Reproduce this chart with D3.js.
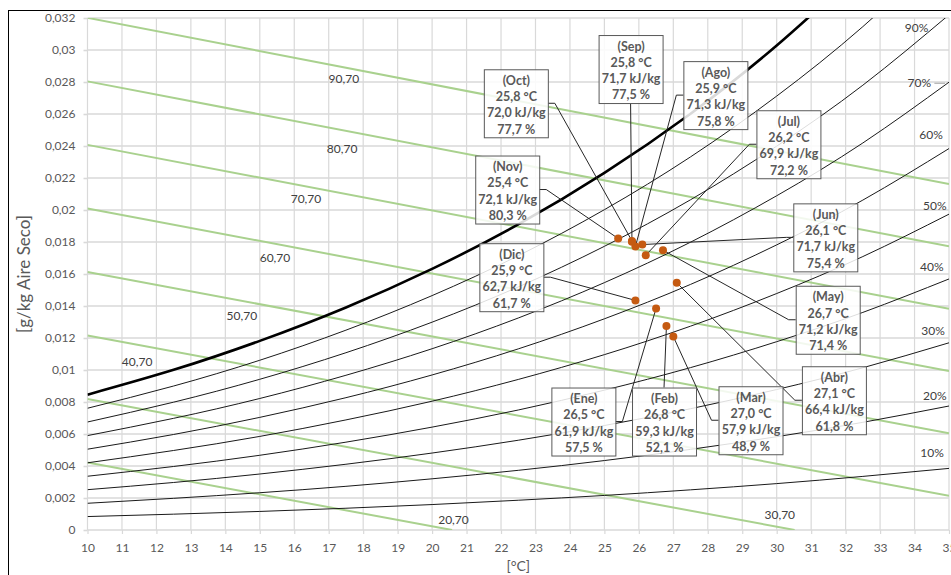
<!DOCTYPE html>
<html lang="es">
<head>
<meta charset="UTF-8">
<title>Carta psicrométrica</title>
<script src="https://d3js.org/d3.v7.min.js"></script>
<style>
  body { margin: 0; background: #fff; }
  svg { display: block; font-family: Lato, 'Open Sans', sans-serif; }
  .axis text { fill: #595959; font-size: 12px; }
  .axis-label { fill: #595959; font-size: 14px; }
  .axis-label.yl { font-size: 17px; }
  .h-label, .rh-label { fill: #404040; font-size: 12px; }
  .box rect { fill: #fff; fill-opacity: 0.85; stroke: #595959; stroke-width: 1; }
  .box text { fill: #595959; font-size: 12.5px; font-weight: bold; }
</style>
</head>
<body>
<script>
// ---- data ----
const xTicks = [10,11,12,13,14,15,16,17,18,19,20,21,22,23,24,25,26,27,28,29,30,31,32,33,34,35];
const yTicks = [0,0.002,0.004,0.006,0.008,0.01,0.012,0.014,0.016,0.018,0.02,0.022,0.024,0.026,0.028,0.03,0.032];

// humidity ratio of the relative humidity curves at these temperatures
const tempGrid = [10, 12.5, 15, 17.5, 20, 22.5, 25, 27.5, 30, 32.5, 35];
const w100 = [0.00846, 0.01001, 0.01182, 0.01391, 0.01632, 0.01910, 0.02232, 0.02602, 0.03028, 0.03515];
const w90 = [0.00761, 0.00900, 0.01061, 0.01249, 0.01465, 0.01714, 0.02002, 0.02332, 0.02712, 0.03146, 0.03646];
const w80 = [0.00675, 0.00799, 0.00942, 0.01108, 0.01299, 0.01519, 0.01773, 0.02064, 0.02399, 0.02780, 0.03220];
const w70 = [0.00590, 0.00698, 0.00822, 0.00967, 0.01133, 0.01325, 0.01546, 0.01799, 0.02089, 0.02419, 0.02799];
const w60 = [0.00505, 0.00597, 0.00704, 0.00827, 0.00969, 0.01132, 0.01320, 0.01535, 0.01782, 0.02062, 0.02384];
const w50 = [0.00420, 0.00497, 0.00585, 0.00688, 0.00805, 0.00941, 0.01096, 0.01274, 0.01478, 0.01709, 0.01974];
const w40 = [0.00336, 0.00397, 0.00467, 0.00549, 0.00643, 0.00750, 0.00874, 0.01015, 0.01177, 0.01360, 0.01569];
const w30 = [0.00252, 0.00297, 0.00350, 0.00411, 0.00481, 0.00561, 0.00653, 0.00758, 0.00878, 0.01014, 0.01170];
const w20 = [0.00167, 0.00198, 0.00233, 0.00273, 0.00320, 0.00373, 0.00434, 0.00504, 0.00583, 0.00673, 0.00775];
const w10 = [0.00084, 0.00099, 0.00116, 0.00136, 0.00159, 0.00186, 0.00216, 0.00251, 0.00290, 0.00335, 0.00385];

// labels of the RH curves and where they sit (°C, kg/kg)
const rhNames = ["90%", "70%", "60%", "50%", "40%", "30%", "20%", "10%"];
const rhLabelT = [34.06, 34.14, 34.48, 34.59, 34.50, 34.54, 34.59, 34.51];
const rhLabelW = [0.03136, 0.02792, 0.02469, 0.02025, 0.01646, 0.01244, 0.00838, 0.00483];

// enthalpy lines: start and end points
const hStartT = [10, 10, 10, 10, 10, 10, 10, 10];
const hStartW = [0.00422, 0.00819, 0.01216, 0.01613, 0.02010, 0.02407, 0.02804, 0.03201];
const hEndT = [20.58, 30.52, 35, 35, 35, 35, 35, 35];
const hEndW = [0, 0, 0.00214, 0.00604, 0.00993, 0.01383, 0.01773, 0.02162];
const hNames = ["20,70", "30,70", "40,70", "50,70", "60,70", "70,70", "80,70", "90,70"];
const hLabelT = [20.62, 30.09, 11.44, 14.48, 15.44, 16.34, 17.39, 17.44];
const hLabelW = [0.00063, 0.00094, 0.0105, 0.01338, 0.0170, 0.02069, 0.02381, 0.02819];

// monthly points
const months = ["Ene","Feb","Mar","Abr","May","Jun","Jul","Ago","Sep","Oct","Nov","Dic"];
const temps = [26.5, 26.8, 27.0, 27.1, 26.7, 26.1, 26.2, 25.9, 25.8, 25.8, 25.4, 25.9];
const enth = [61.9, 59.3, 57.9, 66.4, 71.2, 71.7, 69.9, 71.3, 71.7, 72.0, 72.1, 62.7];
const hum = [57.5, 52.1, 48.9, 61.8, 71.4, 75.4, 72.2, 75.8, 77.5, 77.7, 80.3, 61.7];
const ratio = [0.01385, 0.01275, 0.01209, 0.01545, 0.01749, 0.01784, 0.01717, 0.01772, 0.01802, 0.01807, 0.01822, 0.01435];
// callout box centres (°C, kg/kg)
const boxT = [24.39, 26.73, 29.24, 31.66, 31.48, 31.41, 30.34, 28.22, 25.76, 22.43, 22.18, 22.30];
const boxW = [0.00678, 0.00678, 0.00686, 0.00811, 0.01314, 0.01829, 0.02411, 0.02718, 0.02881, 0.02667, 0.02128, 0.01580];

// ---- chart ----
const W = 951, H = 575;
const svg = d3.select("body").append("svg").attr("width", W).attr("height", H);

const x = d3.scaleLinear().domain([10, 35]).range([87.5, 949]);
const y = d3.scaleLinear().domain([0, 0.032]).range([530, 18]);

const loc = d3.formatLocale({decimal: ",", thousands: ".", grouping: [3], currency: ["", ""]});
const fmtY = loc.format("~g");
const fmt1 = loc.format(".1f");

// chart border
svg.append("rect")
    .attr("x", 8.5).attr("y", 10.5)
    .attr("width", 1000).attr("height", 1000)
    .attr("fill", "#fff").attr("stroke", "#000");

svg.append("clipPath").attr("id", "plot")
    .append("rect")
    .attr("x", x(10)).attr("y", y(0.032))
    .attr("width", x(35) - x(10)).attr("height", y(0) - y(0.032));

// grid
svg.append("g").selectAll("line").data(yTicks).join("line")
    .attr("x1", x(10)).attr("x2", x(35))
    .attr("y1", d => y(d)).attr("y2", d => y(d))
    .attr("stroke", "#d9d9d9").attr("stroke-width", 1.6);
svg.append("g").selectAll("line").data(xTicks).join("line")
    .attr("x1", d => x(d)).attr("x2", d => x(d))
    .attr("y1", y(0)).attr("y2", y(0.032))
    .attr("stroke", "#d9d9d9").attr("stroke-width", 1.2);

// axes
svg.append("g").attr("class", "axis")
    .attr("transform", `translate(${x(10)},0)`)
    .call(d3.axisLeft(y).tickValues(yTicks).tickSize(4).tickPadding(8).tickFormat(fmtY))
    .call(g => g.select(".domain").remove())
    .call(g => g.selectAll(".tick line").attr("stroke", "#d9d9d9").attr("stroke-width", 1.6));
svg.append("g").attr("class", "axis")
    .attr("transform", `translate(0,${y(0)})`)
    .call(d3.axisBottom(x).tickValues(xTicks).tickSize(4).tickPadding(9).tickFormat(d => d))
    .call(g => g.select(".domain").remove())
    .call(g => g.selectAll(".tick line").attr("stroke", "#d9d9d9").attr("stroke-width", 1.2));
svg.selectAll(".axis").attr("font-family", null).attr("font-size", null);

svg.append("text").attr("class", "axis-label yl")
    .attr("transform", `translate(24,${(y(0) + y(0.032)) / 2}) rotate(-90)`)
    .attr("text-anchor", "middle").attr("dy", "0.35em")
    .text("[g/kg Aire Seco]");
svg.append("text").attr("class", "axis-label")
    .attr("x", (x(10) + x(35)) / 2).attr("y", 571)
    .attr("text-anchor", "middle")
    .text("[°C]");

const plot = svg.append("g").attr("clip-path", "url(#plot)");

// enthalpy lines
plot.selectAll(".hline").data(hStartT).join("line")
    .attr("x1", (d, i) => x(hStartT[i])).attr("y1", (d, i) => y(hStartW[i]))
    .attr("x2", (d, i) => x(hEndT[i])).attr("y2", (d, i) => y(hEndW[i]))
    .attr("stroke", "#a9d18e").attr("stroke-width", 2);

// RH curves
const line = d3.line().x(d => x(d[0])).y(d => y(d[1])).curve(d3.curveNatural);
const rhSeries = [w90, w80, w70, w60, w50, w40, w30, w20, w10];
plot.selectAll(".rh").data(rhSeries).join("path")
    .attr("fill", "none").attr("stroke", "#1a1a1a").attr("stroke-width", 1)
    .attr("d", s => line(s.map((v, i) => [tempGrid[i], v])));
plot.append("path")
    .attr("fill", "none").attr("stroke", "#000").attr("stroke-width", 2.6)
    .attr("d", line(w100.map((v, i) => [tempGrid[i], v])));

// enthalpy labels
svg.selectAll(".h-label").data(hNames).join("text")
    .attr("class", "h-label")
    .attr("x", (d, i) => x(hLabelT[i])).attr("y", (d, i) => y(hLabelW[i]))
    .attr("text-anchor", "middle").attr("dy", "0.35em")
    .text(d => d);

// RH labels
svg.selectAll(".rh-label").data(rhNames).join("text")
    .attr("class", "rh-label")
    .attr("x", (d, i) => x(rhLabelT[i])).attr("y", (d, i) => y(rhLabelW[i]))
    .attr("text-anchor", "middle").attr("dy", "0.35em")
    .text(d => d);
// small leader of the 70% label
svg.append("line")
    .attr("x1", x(rhLabelT[1]) + 15).attr("y1", y(rhLabelW[1]))
    .attr("x2", x(35) - 4).attr("y2", y(rhLabelW[1]))
    .attr("stroke", "#a6a6a6").attr("stroke-width", 1);

// callouts: leader lines, points, boxes
const bw = 64, bh = 68;
const pts = months.map((m, i) => ({
    m, px: x(temps[i]), py: y(ratio[i]), cx: x(boxT[i]), cy: y(boxW[i]),
    lines: [`(${m})`, `${fmt1(temps[i])} °C`, `${fmt1(enth[i])} kJ/kg`, `${fmt1(hum[i])} %`]
}));

function leader(d) {
    const l = d.cx - bw / 2, r = d.cx + bw / 2, t = d.cy - bh / 2, b = d.cy + bh / 2;
    if (d.px >= l && d.px <= r) {
        const sy = d.py > b ? b : t;
        return `M${d.cx},${sy}L${d.px},${d.py}`;
    }
    if (d.px > r) return `M${r},${d.cy}h7L${d.px},${d.py}`;
    return `M${l},${d.cy}h-7L${d.px},${d.py}`;
}

svg.append("g").selectAll("path").data(pts).join("path")
    .attr("fill", "none").attr("stroke", "#262626").attr("stroke-width", 1)
    .attr("d", leader);

svg.append("g").selectAll("circle").data(pts).join("circle")
    .attr("cx", d => d.px).attr("cy", d => d.py).attr("r", 4)
    .attr("fill", "#c55a11");

const box = svg.append("g").selectAll("g").data(pts).join("g")
    .attr("class", "box")
    .attr("transform", d => `translate(${d.cx - bw / 2},${d.cy - bh / 2})`);
box.append("rect").attr("x", 0.5).attr("y", 0.5).attr("width", bw).attr("height", bh);
box.selectAll("text").data(d => d.lines).join("text")
    .attr("x", bw / 2 + 0.5).attr("y", (d, i) => 15.5 + i * 16.3)
    .attr("text-anchor", "middle")
    .text(d => d);
</script>
</body>
</html>
